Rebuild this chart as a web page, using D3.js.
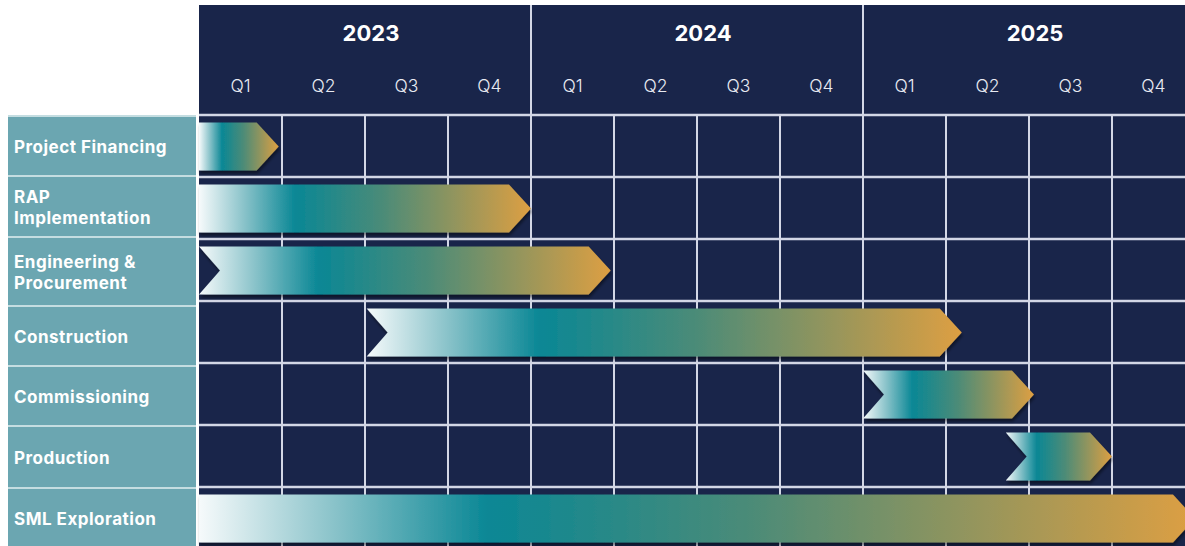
<!DOCTYPE html>
<html>
<head>
<meta charset="utf-8">
<script src="https://cdn.jsdelivr.net/npm/d3@7"></script>
<style>
  body { margin: 0; background: #fff; }
  svg { display: block; font-family: Inter, "Open Sans", sans-serif; }
</style>
</head>
<body>
<div id="chart"></div>
<script>
// timeline data (quarter units, 0 = start of 2023 Q1)
const years = ['2023', '2024', '2025'];
const quarters = ['Q1', 'Q2', 'Q3', 'Q4'];
const tasks = ['Project Financing', 'RAP\nImplementation', 'Engineering &\nProcurement',
               'Construction', 'Commissioning', 'Production', 'SML Exploration'];
const starts = [0, 0, 0, 2.02, 8, 9.72, 0];
const ends = [0.96, 4, 4.96, 9.19, 10.06, 11, 12];
const notched = [false, false, true, true, true, true, false];

const W = 1185, H = 546;
const margin = { top: 5, left: 199, header: 110 };
const navy = '#19254a';
const gridColor = '#d3d7e6';
// the left panel rows are not quite even with the grid rows
const labelRowH = [60, 61, 69, 60, 60, 62, 60];

const svg = d3.select('#chart').append('svg')
    .attr('width', W)
    .attr('height', H);

const defs = svg.append('defs');
const grad = defs.append('linearGradient').attr('id', 'barGrad');
grad.append('stop').attr('offset', '0%').attr('stop-color', '#f6fafb');
grad.append('stop').attr('offset', '14%').attr('stop-color', '#86c1c8');
grad.append('stop').attr('offset', '29%').attr('stop-color', '#0a8795');
grad.append('stop').attr('offset', '55%').attr('stop-color', '#4a8b78');
grad.append('stop').attr('offset', '100%').attr('stop-color', '#dd9f42');

const shadow = defs.append('filter').attr('id', 'shadow')
    .attr('x', '-5%').attr('y', '-20%').attr('width', '110%').attr('height', '150%');
shadow.append('feDropShadow')
    .attr('dx', 1).attr('dy', 3).attr('stdDeviation', 1.5)
    .attr('flood-color', '#000').attr('flood-opacity', 0.45);

const nQ = years.length * quarters.length;
const x = d3.scaleLinear().domain([0, nQ]).range([margin.left, margin.left + 83 * nQ]);
const bodyTop = margin.top + margin.header;
const y = d3.scaleBand().domain(d3.range(tasks.length)).range([bodyTop, bodyTop + 62 * tasks.length]);
const labelEdges = [bodyTop + 1];
labelRowH.forEach(h => labelEdges.push(labelEdges[labelEdges.length - 1] + h));

// navy background
svg.append('rect')
    .attr('x', x(0)).attr('y', margin.top)
    .attr('width', x(nQ) - x(0)).attr('height', H - margin.top)
    .attr('fill', navy);

// left label panel
svg.append('rect')
    .attr('x', 8).attr('y', bodyTop + 1)
    .attr('width', 188).attr('height', H - bodyTop)
    .attr('fill', '#6ba6b1');

// body grid
const grid = svg.append('g').attr('class', 'grid');
grid.selectAll('line.v')
    .data(d3.range(1, nQ))
    .join('line')
    .attr('x1', d => x(d)).attr('x2', d => x(d))
    .attr('y1', bodyTop).attr('y2', H)
    .attr('stroke', gridColor).attr('stroke-width', 2);
grid.selectAll('line.h')
    .data(d3.range(tasks.length + 1))
    .join('line')
    .attr('x1', x(0)).attr('x2', W)
    .attr('y1', d => (y(d) ?? y.range()[1])).attr('y2', d => (y(d) ?? y.range()[1]))
    .attr('stroke', gridColor).attr('stroke-width', 2.5);

// year separators in header
grid.selectAll('line.yr')
    .data(d3.range(1, years.length))
    .join('line')
    .attr('x1', d => x(d * 4)).attr('x2', d => x(d * 4))
    .attr('y1', margin.top).attr('y2', bodyTop)
    .attr('stroke', gridColor).attr('stroke-width', 2);

// label separators
svg.append('g').selectAll('line')
    .data(labelEdges)
    .join('line')
    .attr('x1', 8).attr('x2', 196)
    .attr('y1', d => d).attr('y2', d => d)
    .attr('stroke', '#c4dde1').attr('stroke-width', 2);

// header text
svg.append('g').selectAll('text')
    .data(years)
    .join('text')
    .attr('x', (d, i) => x(i * 4 + 2) + 6)
    .attr('y', 41)
    .attr('text-anchor', 'middle')
    .attr('fill', '#fff')
    .attr('font-size', 22)
    .attr('font-weight', 700)
    .text(d => d);

svg.append('g').selectAll('text')
    .data(d3.range(nQ))
    .join('text')
    .attr('x', d => x(d + 0.5))
    .attr('y', 92)
    .attr('text-anchor', 'middle')
    .attr('fill', '#e8eaf2')
    .attr('font-size', 17.5)
    .attr('font-weight', 300)
    .text(d => quarters[d % 4]);

// task labels
const labels = svg.append('g').selectAll('text')
    .data(tasks)
    .join('text')
    .attr('fill', '#fff')
    .attr('font-size', 17)
    .attr('font-weight', 700)
    .attr('letter-spacing', 0.5);
labels.each(function(d, i) {
    const lines = d.split('\n');
    const cy = (labelEdges[i] + labelEdges[i + 1]) / 2;
    const lh = 21;
    d3.select(this).selectAll('tspan')
        .data(lines)
        .join('tspan')
        .attr('x', 14)
        .attr('y', (l, j) => cy + 7 + (j - (lines.length - 1) / 2) * lh)
        .text(l => l);
});

// bars
const barH = 48, head = 22, notch = 21;
function arrow(i) {
    const x0 = x(starts[i]), x1 = x(ends[i]);
    const yt = y(i) + (y.bandwidth() - barH) / 2 + 0.5;
    const yb = yt + barH, ym = yt + barH / 2;
    const n = notched[i] ? notch : 0;
    return 'M' + [[x0, yt], [x1 - head, yt], [x1, ym], [x1 - head, yb], [x0, yb], [x0 + n, ym]]
        .map(p => p.join(',')).join('L') + 'Z';
}
svg.append('g').selectAll('path')
    .data(tasks)
    .join('path')
    .attr('d', (d, i) => arrow(i))
    .attr('fill', 'url(#barGrad)')
    .attr('filter', 'url(#shadow)');
</script>
</body>
</html>
